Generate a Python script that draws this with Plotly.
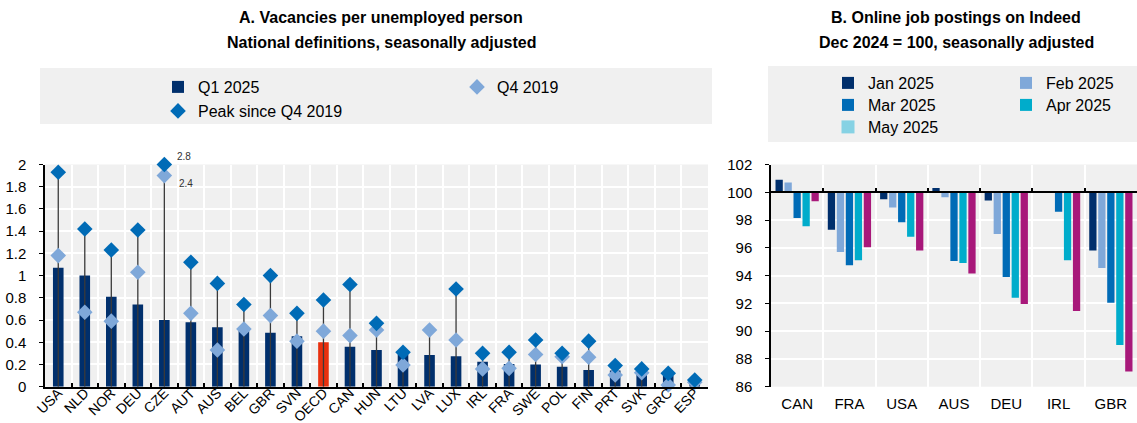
import plotly.graph_objects as go

# ---- Panel A: vacancies per unemployed person ----
countries_a = ["USA", "NLD", "NOR", "DEU", "CZE", "AUT", "AUS", "BEL", "GBR", "SVN",
               "OECD", "CAN", "HUN", "LTU", "LVA", "LUX", "IRL", "FRA", "SWE", "POL",
               "FIN", "PRT", "SVK", "GRC", "ESP"]
q1_2025 = [1.07, 1.00, 0.81, 0.74, 0.60, 0.58, 0.535, 0.51, 0.485, 0.455,
           0.40, 0.36, 0.33, 0.29, 0.285, 0.275, 0.225, 0.205, 0.20, 0.18,
           0.15, 0.145, 0.125, 0.10, 0.03]
q4_2019 = [1.18, 0.67, 0.59, 1.03, 2.4, 0.66, 0.33, 0.52, 0.64, 0.41,
           0.50, 0.46, 0.51, 0.195, 0.51, 0.42, 0.16, 0.165, 0.29, 0.27,
           0.265, 0.105, 0.125, 0.015, 0.04]
peak_since_q4_2019 = [1.93, 1.42, 1.23, 1.41, 2.8, 1.12, 0.93, 0.74, 1.00, 0.66,
                      0.78, 0.92, 0.57, 0.31, None, 0.88, 0.30, 0.31, 0.42, 0.30,
                      0.41, 0.19, 0.16, 0.12, 0.06]

# ---- Panel B: online job postings on Indeed (Dec 2024 = 100) ----
countries_b = ["CAN", "FRA", "USA", "AUS", "DEU", "IRL", "GBR"]
jan_2025 = [100.9, 97.3, 99.5, 100.3, 99.4, None, 95.8]
feb_2025 = [100.7, 95.7, 98.9, 99.65, 97.0, None, 94.55]
mar_2025 = [98.15, 94.75, 97.85, 95.05, 93.9, 98.6, 92.05]
apr_2025 = [97.55, 95.1, 96.8, 94.9, 92.4, 95.1, 89.0]
may_2025 = [99.35, 96.05, 95.8, 94.15, 91.95, 91.45, 87.1]
INDEX_BASE = 100

# ---- styling ----
W, H = 1137, 423
FONT = "Liberation Sans, Arial, sans-serif"
NAVY = "#002F6C"
OECD_RED = "#E8300E"
MID_BLUE = "#006BB6"
LIGHT_BLUE = "#7FA8D9"
CYAN = "#00ACCB"
SKY = "#86D2E4"
MAGENTA = "#A8187A"
PANEL_BG = "#F0F0F0"
STEM = "#3a3a3a"

Y_MAX_A = 2.0
Y_RANGE_B = (86, 102)

# plot-area placement (pixels)
A_LEFT, A_RIGHT = 45, 708
B_LEFT, B_RIGHT = 771, 1137
TOP, BOTTOM = 164.5, 386.7
y_dom = [(H - BOTTOM) / H, (H - TOP) / H]


def px_x(x):
    return x / W


def px_y(y):
    return (H - y) / H


# values above the axis maximum are pinned to the top edge and labelled
def pinned(vals, cap):
    return [None if v is None else min(v, cap) for v in vals]


peak_shown = pinned(peak_since_q4_2019, Y_MAX_A)
q4_shown = pinned(q4_2019, Y_MAX_A - 0.1)

fig = go.Figure()

# bars: Q1 2025, OECD highlighted
bar_colors = [OECD_RED if c == "OECD" else NAVY for c in countries_a]
fig.add_trace(go.Bar(
    x=countries_a, y=q1_2025, name="Q1 2025", width=0.4,
    marker=dict(color=bar_colors, line=dict(width=0)),
    xaxis="x", yaxis="y", legend="legend",
))

# stems from zero up to the highest marker
stem_x, stem_y = [], []
for c, b, q, p in zip(countries_a, q1_2025, q4_shown, peak_shown):
    top = max(v for v in (b, q, p) if v is not None)
    stem_x += [c, c, None]
    stem_y += [0, top, None]
fig.add_trace(go.Scatter(
    x=stem_x, y=stem_y, mode="lines", line=dict(color=STEM, width=1.3),
    showlegend=False, hoverinfo="skip", xaxis="x", yaxis="y", cliponaxis=False,
))

fig.add_trace(go.Scatter(
    x=countries_a, y=q4_shown, mode="markers", name="Q4 2019",
    marker=dict(symbol="diamond", size=12, color=LIGHT_BLUE),
    xaxis="x", yaxis="y", legend="legend", cliponaxis=False,
))
fig.add_trace(go.Scatter(
    x=countries_a, y=peak_shown, mode="markers", name="Peak since Q4 2019",
    marker=dict(symbol="diamond", size=12, color=MID_BLUE),
    xaxis="x", yaxis="y", legend="legend2", cliponaxis=False,
))

# labels for off-scale markers
annotations = []
for c, v, s in zip(countries_a, peak_since_q4_2019, peak_shown):
    if v is not None and v > s:
        annotations.append(dict(x=c, y=s, xref="x", yref="y", text=f"{v:g}",
                                showarrow=False, xanchor="left", yanchor="bottom",
                                xshift=11, yshift=0, font=dict(size=10, color="#333")))
for c, v, s in zip(countries_a, q4_2019, q4_shown):
    if v is not None and v > s:
        annotations.append(dict(x=c, y=s, xref="x", yref="y", text=f"{v:g}",
                                showarrow=False, xanchor="left", yanchor="top",
                                xshift=13, yshift=0, font=dict(size=10, color="#333")))

# ---- Panel B bars ----
series_b = [
    ("Jan 2025", jan_2025, NAVY, "legend3", True),
    ("Feb 2025", feb_2025, LIGHT_BLUE, "legend3", True),
    ("Mar 2025", mar_2025, MID_BLUE, "legend4", True),
    ("Apr 2025", apr_2025, CYAN, "legend4", True),
    ("May 2025", may_2025, MAGENTA, "legend5", False),
]
for name, vals, col, leg, show in series_b:
    fig.add_trace(go.Bar(
        x=countries_b, y=[None if v is None else v - INDEX_BASE for v in vals],
        base=INDEX_BASE, name=name, marker=dict(color=col, line=dict(width=0)),
        xaxis="x2", yaxis="y2", legend=leg, showlegend=show,
    ))
# legend key for May 2025
fig.add_trace(go.Scatter(
    x=[None], y=[None], mode="markers", name="May 2025",
    marker=dict(symbol="square", size=13, color=SKY),
    xaxis="x2", yaxis="y2", legend="legend5",
))
# carrier for the axis drawn along the 100 line
fig.add_trace(go.Scatter(
    x=countries_b, y=may_2025, mode="markers", marker=dict(opacity=0, size=1),
    showlegend=False, hoverinfo="skip", xaxis="x3", yaxis="y2",
))

p100 = y_dom[0] + (INDEX_BASE - Y_RANGE_B[0]) / (Y_RANGE_B[1] - Y_RANGE_B[0]) * (y_dom[1] - y_dom[0])

# titles, one annotation per line
titles = [
    (381, 18, "A. Vacancies per unemployed person"),
    (381, 42, "National definitions, seasonally adjusted"),
    (956, 18, "B. Online job postings on Indeed"),
    (956, 42, "Dec 2024 = 100, seasonally adjusted"),
]
for cx, cy, txt in titles:
    annotations.append(dict(x=px_x(cx), y=px_y(cy), xref="paper", yref="paper",
                            text=f"<b>{txt}</b>", showarrow=False,
                            xanchor="center", yanchor="middle",
                            font=dict(size=16, color="#000")))

shapes = [
    dict(type="rect", xref="paper", yref="paper", x0=px_x(40), x1=px_x(712),
         y0=px_y(124), y1=px_y(68), fillcolor=PANEL_BG, line=dict(width=0), layer="below"),
    dict(type="rect", xref="paper", yref="paper", x0=px_x(768), x1=px_x(1137),
         y0=px_y(142), y1=px_y(66), fillcolor=PANEL_BG, line=dict(width=0), layer="below"),
]

leg_common = dict(orientation="h", xanchor="left", yanchor="middle",
                  bgcolor="rgba(0,0,0,0)", font=dict(size=16, color="#000"),
                  entrywidthmode="pixels", itemclick=False, itemdoubleclick=False)

axis_font = dict(size=15, color="#000")
fig.update_layout(
    width=W, height=H, margin=dict(l=0, r=0, t=0, b=0, autoexpand=False),
    paper_bgcolor="white", plot_bgcolor=PANEL_BG,
    font=dict(family=FONT, size=16, color="#000"),
    barmode="group", bargap=0.14, bargroupgap=0.19,
    annotations=annotations, shapes=shapes,
    legend=dict(x=px_x(158), y=px_y(87), entrywidth=254, **leg_common),
    legend2=dict(x=px_x(158), y=px_y(111), entrywidth=254, **leg_common),
    legend3=dict(x=px_x(828), y=px_y(83), entrywidth=133, **leg_common),
    legend4=dict(x=px_x(828), y=px_y(105), entrywidth=133, **leg_common),
    legend5=dict(x=px_x(828), y=px_y(127), entrywidth=133, **leg_common),
    xaxis=dict(domain=[px_x(A_LEFT), px_x(A_RIGHT)], anchor="y", type="category",
               range=[-0.5, len(countries_a) - 0.5],
               showline=True, linecolor="#000", linewidth=1.5, mirror=False,
               ticks="inside", ticklen=4, tickcolor="#000", tickwidth=1.5,
               tickson="boundaries", tickangle=-45, tickfont=dict(size=14, color="#000"),
               ticklabelstandoff=-9,
               showgrid=True, gridcolor="white", gridwidth=2),
    yaxis=dict(domain=y_dom, anchor="x", range=[0, Y_MAX_A], dtick=0.2,
               showline=True, linecolor="#000", linewidth=1.5,
               ticks="outside", ticklen=4, tickcolor="#000", ticklabelstandoff=10,
               tickfont=axis_font, showgrid=True, gridcolor="white", gridwidth=2,
               zeroline=False),
    xaxis2=dict(domain=[px_x(B_LEFT), px_x(B_RIGHT)], anchor="y2", type="category",
                range=[-0.5, len(countries_b) - 0.5],
                showline=False, ticks="", tickson="boundaries", tickfont=axis_font,
                showgrid=True, gridcolor="white", gridwidth=2, ticklabelstandoff=6),
    xaxis3=dict(overlaying="x2", matches="x2", anchor="free", position=p100,
                type="category", showline=True, linecolor="#000", linewidth=1.5,
                ticks="inside", ticklen=4, tickcolor="#000", tickwidth=1.5,
                tickson="boundaries", showticklabels=False, showgrid=False),
    yaxis2=dict(domain=y_dom, anchor="x2", range=list(Y_RANGE_B), dtick=2,
                showline=True, linecolor="#000", linewidth=1.5,
                ticks="outside", ticklen=4, tickcolor="#000", ticklabelstandoff=10,
                tickfont=axis_font, showgrid=True, gridcolor="white", gridwidth=2,
                zeroline=False),
)

fig.write_html("out.html")
